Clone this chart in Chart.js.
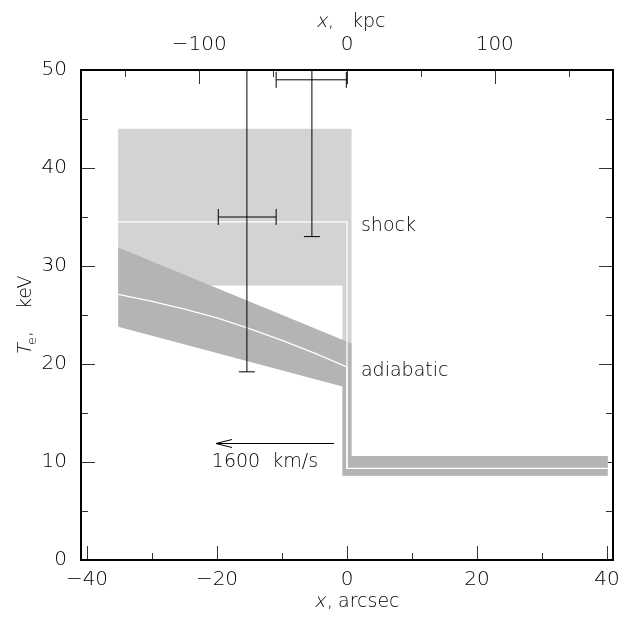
<!DOCTYPE html>
<html>
<head>
<meta charset="utf-8">
<script src="https://cdn.jsdelivr.net/npm/chart.js@4.4.1/dist/chart.umd.min.js"></script>
<style>
html,body{margin:0;padding:0;background:#fff;}
#wrap{width:628px;height:618px;position:relative;}
</style>
</head>
<body>
<div id="wrap"><canvas id="c" width="628" height="618"></canvas></div>
<script>
// ---------- tick definitions ----------
const xMajorTicks = [-40, -20, 0, 20, 40];
const xMinorTicks = [-30, -10, 10, 30];
const kpcMajorTicks = [-100, 0, 100];
const kpcMinorTicks = [-150, -50, 50, 150];
const tMajorTicks = [0, 10, 20, 30, 40, 50];
const tMinorTicks = [5, 15, 25, 35, 45];
const KPC_PER_ARCSEC = 4.4;
const X_MIN = -40.92, X_MAX = 40.92;

// ---------- model bands (arcsec, keV) ----------
const shockBandX = [-35.2, 0.7, 0.7, 40.1, 40.1, -0.7, -0.7, -35.2];
const shockBandT = [44.0, 44.0, 10.6, 10.6, 8.6, 8.6, 28.0, 28.0];
const adiabBandX = [-35.2, 0.7, 0.7, 40.1, 40.1, -0.7, -0.7, -35.2];
const adiabBandT = [31.9, 22.1, 10.6, 10.6, 8.6, 8.6, 17.7, 23.8];

// ---------- best-fit model curves ----------
const shockLineX = [-35.2, 0.0, 0.0, 40.1];
const shockLineT = [34.5, 34.5, 9.35, 9.35];
const adiabLineX = [-35.2, -30, -25, -20, -15, -10, -5, 0.0, 0.0];
const adiabLineT = [27.1, 26.4, 25.6, 24.7, 23.6, 22.4, 21.1, 19.7, 9.35];

// ---------- measurements ----------
const obsX   = [-15.4, -5.4];
const obsXlo = [-19.8, -10.9];
const obsXhi = [-10.9, -0.1];
const obsT   = [35.0, 49.0];
const obsTlo = [19.2, 33.0];
const obsThi = [58.0, 58.0];   // upper ends lie beyond the frame

// ---------- annotations ----------
const noteText = ['shock', 'adiabatic', '1600  km/s'];
const noteX    = [2.15, 2.15, -20.8];
const noteT    = [33.6, 18.8, 9.5];
const arrowX   = [-2.0, -20.15];
const arrowT   = 11.9;

const FONT = '"DejaVu Sans", "Liberation Sans", sans-serif';
const W = '200 ';
const TXT = '#000';
const fmt = v => String(v).replace('-', '\u2212');
const pts = (xs, ys) => xs.map((x, i) => ({x, y: Array.isArray(ys) ? ys[i] : ys}));

const datasets = [
  {label:'shock band', data: pts(shockBandX, shockBandT), fill:'shape',
   backgroundColor:'#d3d3d3', borderWidth:0, borderColor:'rgba(0,0,0,0)', pointRadius:0, order:10},
  {label:'adiabatic band', data: pts(adiabBandX, adiabBandT), fill:'shape',
   backgroundColor:'#b4b4b4', borderWidth:0, borderColor:'rgba(0,0,0,0)', pointRadius:0, order:9},
  {label:'shock', data: pts(shockLineX, shockLineT), fill:false,
   borderColor:'#ffffff', borderWidth:1.3, pointRadius:0, order:5},
  {label:'adiabatic', data: pts(adiabLineX, adiabLineT), fill:false,
   borderColor:'#ffffff', borderWidth:1.3, pointRadius:0, order:5}
];
obsX.forEach((x, i) => {
  datasets.push({label:'errT'+i, data:[{x, y:obsTlo[i]}, {x, y:obsThi[i]}], fill:false,
    borderColor:'#000', borderWidth:1, pointStyle:'line', pointRadius:[8, 0],
    pointBorderColor:'#000', pointBorderWidth:1, pointRotation:0, order:1});
  datasets.push({label:'errX'+i, data:[{x:obsXlo[i], y:obsT[i]}, {x:obsXhi[i], y:obsT[i]}], fill:false,
    borderColor:'#000', borderWidth:1, pointStyle:'line', pointRadius:8,
    pointBorderColor:'#000', pointBorderWidth:1, pointRotation:90, order:1});
});

// inward tick marks, drawn under the data
const tickMarks = {
  id:'tickMarks',
  beforeDatasetsDraw(chart) {
    const {ctx, chartArea:a, scales:s} = chart;
    const MAJ = 14, MIN = 7;
    ctx.save();
    ctx.strokeStyle = '#333'; ctx.lineWidth = 1;
    const seg = (x1, y1, x2, y2) => { ctx.beginPath(); ctx.moveTo(x1, y1); ctx.lineTo(x2, y2); ctx.stroke(); };
    const px = (sc, v) => Math.round(sc.getPixelForValue(v)) + 0.5;
    xMajorTicks.forEach(v => { const p = px(s.x, v); seg(p, a.bottom, p, a.bottom - MAJ); });
    xMinorTicks.forEach(v => { const p = px(s.x, v); seg(p, a.bottom, p, a.bottom - MIN); });
    kpcMajorTicks.forEach(v => { const p = px(s.x2, v); seg(p, a.top, p, a.top + MAJ); });
    kpcMinorTicks.forEach(v => { const p = px(s.x2, v); seg(p, a.top, p, a.top + MIN); });
    tMajorTicks.forEach(v => { const p = px(s.y, v); seg(a.left, p, a.left + MAJ, p); seg(a.right, p, a.right - MAJ, p); });
    tMinorTicks.forEach(v => { const p = px(s.y, v); seg(a.left, p, a.left + MIN, p); seg(a.right, p, a.right - MIN, p); });
    ctx.restore();
  }
};

// slanted thin glyph (oblique look in the thin face)
function slant(ctx, t, x, y) {
  ctx.save(); ctx.translate(x, y); ctx.transform(1, 0, -0.22, 1, 0, 0);
  ctx.fillText(t, 0, 0); ctx.restore();
}

// annotations and axis titles
const notes = {
  id:'notes',
  afterDatasetsDraw(chart) {
    const {ctx, scales:s} = chart;
    ctx.save();
    ctx.fillStyle = TXT; ctx.strokeStyle = '#000';
    ctx.textBaseline = 'alphabetic'; ctx.textAlign = 'left';
    ctx.font = W + '19px ' + FONT;
    noteText.forEach((t, i) => {
      ctx.fillText(t, s.x.getPixelForValue(noteX[i]), s.y.getPixelForValue(noteT[i]));
    });
    // velocity arrow
    const x0 = s.x.getPixelForValue(arrowX[0]), x1 = s.x.getPixelForValue(arrowX[1]);
    const ya = Math.round(s.y.getPixelForValue(arrowT)) + 0.5;
    ctx.lineWidth = 1;
    ctx.beginPath(); ctx.moveTo(x0, ya); ctx.lineTo(x1, ya); ctx.stroke();
    ctx.beginPath(); ctx.moveTo(x1 + 16, ya - 4); ctx.lineTo(x1, ya); ctx.lineTo(x1 + 16, ya + 4); ctx.stroke();

    ctx.font = W + '19px ' + FONT;
    // bottom title: x, arcsec
    slant(ctx, 'x', 314, 607); ctx.fillText(',', 327, 607); ctx.fillText('arcsec', 338, 607);
    // top title: x, kpc
    slant(ctx, 'x', 316, 27); ctx.fillText(',', 328, 27); ctx.fillText('kpc', 352, 27);
    // left title: T_e, keV (rotated)
    ctx.translate(31, 357); ctx.rotate(-Math.PI / 2);
    slant(ctx, 'T', 1, 0);
    ctx.font = W + '13px ' + FONT; ctx.fillText('e', 12, 5);
    ctx.font = W + '19px ' + FONT; ctx.fillText(',', 20, 0); ctx.fillText('keV', 48, 0);
    ctx.restore();
  }
};

const tickFont = {family: FONT, size: 20, weight: 200};
new Chart(document.getElementById('c'), {
  type:'line',
  data:{datasets},
  options:{
    responsive:false, animation:false, events:[],
    layout:{padding:0},
    plugins:{legend:{display:false}, tooltip:{enabled:false}},
    scales:{
      x:{type:'linear', position:'bottom', min:X_MIN, max:X_MAX,
         grid:{display:false, drawTicks:false}, border:{display:true, color:'#000', width:2, z:2},
         ticks:{font:tickFont, color:TXT, padding:8, maxRotation:0, autoSkip:false, includeBounds:false, callback:fmt},
         afterBuildTicks: sc => { sc.ticks = xMajorTicks.map(v => ({value:v})); },
         afterFit: sc => { sc.height = 58; }},
      x2:{type:'linear', position:'top', min:X_MIN * KPC_PER_ARCSEC, max:X_MAX * KPC_PER_ARCSEC,
         grid:{display:false, drawTicks:false}, border:{display:true, color:'#000', width:2, z:2},
         ticks:{font:tickFont, color:TXT, padding:13, maxRotation:0, autoSkip:false, includeBounds:false, callback:fmt},
         afterBuildTicks: sc => { sc.ticks = kpcMajorTicks.map(v => ({value:v})); },
         afterFit: sc => { sc.height = 70; }},
      y:{type:'linear', position:'left', min:0, max:50,
         grid:{display:false, drawTicks:false}, border:{display:true, color:'#000', width:2, z:2},
         ticks:{font:tickFont, color:TXT, padding:14, autoSkip:false, includeBounds:false, callback:fmt},
         afterBuildTicks: sc => { sc.ticks = tMajorTicks.map(v => ({value:v})); },
         afterFit: sc => { sc.width = 81; }},
      y2:{type:'linear', position:'right', min:0, max:50,
         grid:{display:false, drawTicks:false}, border:{display:true, color:'#000', width:2, z:2},
         ticks:{display:false},
         afterFit: sc => { sc.width = 15; }}
    }
  },
  plugins:[tickMarks, notes]
});
</script>
</body>
</html>
